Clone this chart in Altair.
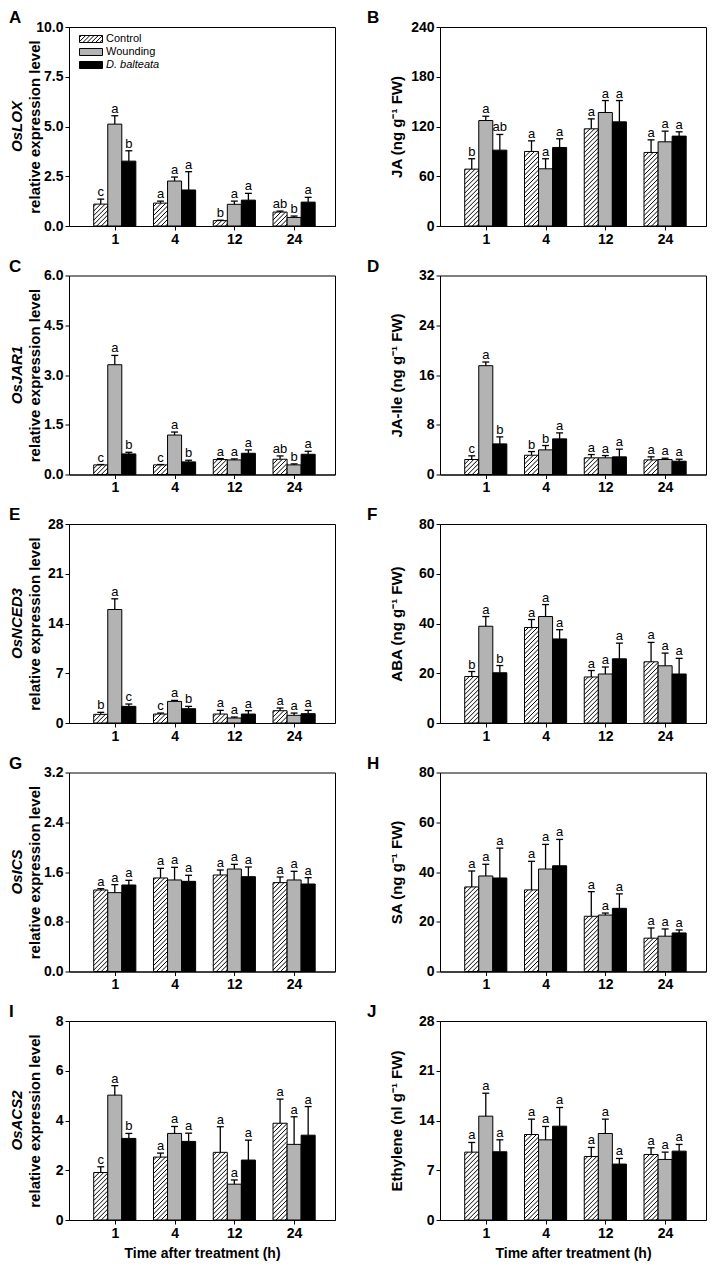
import json
import altair as alt
import pandas as pd

FONT = "Liberation Sans"
TIMES = ["1", "4", "12", "24"]
TREATMENTS = ["Control", "Wounding", "D. balteata"]
FILLS = ["#ffffff", "#b3b3b3", "#000000"]

# values per time point: [Control, Wounding, D. balteata]
A_MEAN = [[1.10, 5.12, 3.26], [1.15, 2.26, 1.81], [0.27, 1.09, 1.30], [0.70, 0.43, 1.20]]
A_SE = [[0.25, 0.42, 0.52], [0.10, 0.20, 0.92], [0.02, 0.16, 0.34], [0.05, 0.07, 0.24]]
A_LET = [["c", "a", "b"], ["a", "a", "a"], ["b", "a", "a"], ["ab", "b", "a"]]
A_TICKS = [0, 2.5, 5, 7.5, 10]

B_MEAN = [[68.6, 127.2, 91.5], [89.9, 69.0, 94.7], [117.2, 136.9, 125.6], [88.7, 101.5, 108.4]]
B_SE = [[12.5, 5.2, 18.9], [12.8, 12.1, 10.5], [12.0, 14.4, 25.7], [15.2, 12.9, 5.2]]
B_LET = [["b", "a", "ab"], ["a", "a", "a"], ["a", "a", "a"], ["a", "a", "a"]]
B_TICKS = [0, 60, 120, 180, 240]

C_MEAN = [[0.29, 3.31, 0.62], [0.29, 1.19, 0.38], [0.45, 0.44, 0.64], [0.46, 0.29, 0.61]]
C_SE = [[0.01, 0.28, 0.05], [0.01, 0.09, 0.05], [0.03, 0.03, 0.10], [0.10, 0.03, 0.09]]
C_LET = [["c", "a", "b"], ["c", "a", "b"], ["a", "a", "a"], ["ab", "b", "a"]]
C_TICKS = [0, 1.5, 3, 4.5, 6]

D_MEAN = [[2.41, 17.5, 4.92], [3.10, 3.96, 5.73], [2.68, 2.68, 2.84], [2.35, 2.41, 2.14]]
D_SE = [[0.59, 0.59, 1.13], [0.59, 0.70, 0.96], [0.53, 0.37, 1.23], [0.49, 0.21, 0.32]]
D_LET = [["c", "a", "b"], ["b", "b", "a"], ["a", "a", "a"], ["a", "a", "a"]]
D_TICKS = [0, 8, 16, 24, 32]

E_MEAN = [[1.22, 15.97, 2.34], [1.26, 3.04, 2.01], [1.26, 0.70, 1.26], [1.73, 1.08, 1.31]]
E_SE = [[0.28, 1.50, 0.33], [0.14, 0.14, 0.33], [0.52, 0.14, 0.47], [0.38, 0.32, 0.47]]
E_LET = [["b", "a", "c"], ["c", "a", "b"], ["a", "a", "a"], ["a", "a", "a"]]
E_TICKS = [0, 7, 14, 21, 28]

F_MEAN = [[18.7, 38.9, 20.2], [38.4, 42.8, 33.8], [18.5, 19.7, 25.8], [24.6, 23.0, 19.7]]
F_SE = [[2.0, 3.9, 2.9], [3.2, 4.8, 3.7], [2.6, 2.8, 6.3], [7.8, 5.1, 6.3]]
F_LET = [["b", "a", "b"], ["a", "a", "a"], ["a", "a", "a"], ["a", "a", "a"]]
F_TICKS = [0, 20, 40, 60, 80]

G_MEAN = [[1.311, 1.268, 1.391], [1.504, 1.472, 1.450], [1.552, 1.648, 1.525], [1.429, 1.472, 1.407]]
G_SE = [[0.02, 0.129, 0.075], [0.155, 0.203, 0.097], [0.08, 0.075, 0.155], [0.091, 0.139, 0.102]]
G_LET = [["a", "a", "a"], ["a", "a", "a"], ["a", "a", "a"], ["a", "a", "a"]]
G_TICKS = [0, 0.8, 1.6, 2.4, 3.2]

H_MEAN = [[34.0, 38.4, 37.6], [32.8, 41.2, 42.5], [22.2, 22.7, 25.4], [13.4, 14.2, 15.5]]
H_SE = [[6.4, 4.7, 12.0], [11.5, 9.9, 10.6], [9.9, 0.8, 5.8], [4.1, 2.9, 1.2]]
H_LET = [["a", "a", "a"], ["a", "a", "a"], ["a", "a", "a"], ["a", "a", "a"]]
H_TICKS = [0, 20, 40, 60, 80]

I_MEAN = [[1.91, 5.02, 3.28], [2.53, 3.48, 3.16], [2.72, 1.44, 2.41], [3.89, 3.04, 3.41]]
I_SE = [[0.23, 0.38, 0.20], [0.16, 0.28, 0.33], [1.03, 0.17, 0.80], [0.97, 1.11, 1.15]]
I_LET = [["c", "a", "b"], ["a", "a", "a"], ["a", "a", "a"], ["a", "a", "a"]]
I_TICKS = [0, 2, 4, 6, 8]

J_MEAN = [[9.55, 14.61, 9.60], [12.03, 11.28, 13.20], [8.94, 12.17, 7.87], [9.22, 8.52, 9.69]]
J_SE = [[1.36, 3.23, 1.68], [2.16, 1.88, 2.63], [1.27, 2.02, 0.79], [0.94, 1.03, 0.94]]
J_LET = [["a", "a", "a"], ["a", "a", "a"], ["a", "a", "a"], ["a", "a", "a"]]
J_TICKS = [0, 7, 14, 21, 28]

GENES = ["OsLOX", "OsJAR1", "OsNCED3", "OsICS", "OsACS2"]
HORMONES = ["JA (ng g\u207b\u00b9 FW)", "JA-Ile (ng g\u207b\u00b9 FW)", "ABA (ng g\u207b\u00b9 FW)",
            "SA (ng g\u207b\u00b9 FW)", "Ethylene (nl g\u207b\u00b9 FW)"]
XTITLE = "Time after treatment (h)"

# layout / style
W, H = 266, 199
XDOM = [-0.766, 3.684]
BW = 0.235
CAP = 0.058
PX_X = W / (XDOM[1] - XDOM[0])
HATCH = 4.5


def sym_paths():
    hx, hy = 1.77, 0.54
    rect = f"M{-hx},{-hy}H{hx}V{hy}H{-hx}Z"
    parts = [rect]
    a = -hx - 2 * hy + 0.3
    while a < hx:
        xs, xe = max(a, -hx), min(a + 2 * hy, hx)
        if xe > xs + 0.05:
            ys = hy - (xs - a)
            ye = hy - (xe - a)
            parts.append(f"M{xs:.3f},{ys:.3f}L{xe:.3f},{ye:.3f}")
        a += 0.65
    return rect, "".join(parts)


RECT_PATH, HATCH_PATH = sym_paths()


def panel(letter, mean, se, lets, ticks, fmt, ytitle, gene, left, bottom):
    ymax = ticks[-1]
    rows, hatch = [], []
    px_y = H / ymax
    for g in range(4):
        for t in range(3):
            c = g + (t - 1) * BW
            v = mean[g][t]
            rows.append(dict(treatment=TREATMENTS[t], pos=c, xl=c - BW / 2, xr=c + BW / 2,
                             value=v, top=v + se[g][t], letter=lets[g][t],
                             capl=c - CAP, capr=c + CAP))
            if t == 0:
                w = BW * PX_X
                h = v * px_y
                cc = -w + 2.0
                while cc < h:
                    us, ue = max(0.0, -cc), min(w, h - cc)
                    if ue > us + 0.3:
                        hatch.append(dict(hx1=c - BW / 2 + us / PX_X, hy1=(us + cc) / px_y,
                                          hx2=c - BW / 2 + ue / PX_X, hy2=(ue + cc) / px_y))
                    cc += HATCH
    df = pd.DataFrame(rows)
    hdf = pd.DataFrame(hatch)

    xs = alt.Scale(domain=XDOM, nice=False, zero=False)
    xaxis = alt.Axis(values=[0, 1, 2, 3], labelExpr=json.dumps(TIMES) + "[datum.value]",
                     titlePadding=6, titleFontSize=14)
    xt = XTITLE if bottom else None
    ys = alt.Scale(domain=[0, ymax], nice=False, zero=True)
    yaxis = alt.Axis(values=ticks, format=fmt, titleX=(-27 if left else -36))

    def X(f):
        return alt.X(f, type="quantitative", scale=xs, axis=xaxis, title=xt)

    def Y(f):
        return alt.Y(f, type="quantitative", scale=ys, axis=yaxis, title=ytitle)

    legend = alt.Legend(
        title=None, orient="none", legendX=15, legendY=5, padding=0,
        symbolSize=169,
        symbolType={"expr": f"datum.label == 'Control' ? '{HATCH_PATH}' : '{RECT_PATH}'"},
        symbolStrokeColor="black", symbolStrokeWidth=1,
        labelFont=FONT, labelFontSize=11, labelOffset=8, rowPadding=0, labelColor="black",
        labelFontStyle={"expr": "datum.label == 'D. balteata' ? 'italic' : 'normal'"},
    )
    base = alt.Chart(df)
    bars = base.mark_rect(stroke="black", strokeWidth=1).encode(
        x=X("xl"), x2="xr:Q", y=Y("value"), y2=alt.datum(0),
        fill=alt.Fill("treatment:N", scale=alt.Scale(domain=TREATMENTS, range=FILLS), legend=legend),
    )
    hl = alt.Chart(hdf).mark_rule(color="black", strokeWidth=1).encode(
        x=X("hx1"), x2="hx2:Q", y=Y("hy1"), y2="hy2:Q")
    err = base.mark_rule(color="black", strokeWidth=1.3).encode(x=X("pos"), y=Y("value"), y2="top:Q")
    cap = base.mark_rule(color="black", strokeWidth=1.3).encode(x=X("capl"), x2="capr:Q", y=Y("top"))
    txt = base.mark_text(baseline="alphabetic", dy=-3, fontSize=13, font=FONT, color="black").encode(
        x=X("pos"), y=Y("top"), text="letter:N")
    layers = [bars, hl, err, cap, txt]
    if gene:
        g = alt.Chart(pd.DataFrame({"g": [gene]})).mark_text(
            angle=270, baseline="alphabetic", align="center", fontSize=15, font=FONT,
            fontWeight="bold", fontStyle="italic", color="black").encode(
            x=alt.value(-47), y=alt.value(H / 2), text="g:N")
        layers.append(g)
    return alt.layer(*layers).properties(
        width=W, height=H,
        title=alt.TitleParams(letter, anchor="start", frame="group", dx=(-60 if left else -73),
                              fontSize=17, fontWeight="bold", font=FONT, color="black", offset=-7),
    )


LEFT = [("A", A_MEAN, A_SE, A_LET, A_TICKS, ".1f"), ("C", C_MEAN, C_SE, C_LET, C_TICKS, ".1f"),
        ("E", E_MEAN, E_SE, E_LET, E_TICKS, "d"), ("G", G_MEAN, G_SE, G_LET, G_TICKS, ".1f"),
        ("I", I_MEAN, I_SE, I_LET, I_TICKS, "d")]
RIGHT = [("B", B_MEAN, B_SE, B_LET, B_TICKS, "d"), ("D", D_MEAN, D_SE, D_LET, D_TICKS, "d"),
         ("F", F_MEAN, F_SE, F_LET, F_TICKS, "d"), ("H", H_MEAN, H_SE, H_LET, H_TICKS, "d"),
         ("J", J_MEAN, J_SE, J_LET, J_TICKS, "d")]

panels = []
for i in range(5):
    bottom = i == 4
    l = LEFT[i]
    r = RIGHT[i]
    panels.append(panel(l[0], l[1], l[2], l[3], l[4], l[5], "relative expression level", GENES[i], True, bottom))
    panels.append(panel(r[0], r[1], r[2], r[3], r[4], r[5], HORMONES[i], None, False, bottom))

chart = alt.concat(*panels, columns=2, spacing={"row": 49.5, "column": 105}, bounds="flush").properties(
    padding=0).configure_axis(
    labelFont=FONT, titleFont=FONT, labelFontWeight="bold", titleFontWeight="bold",
    labelColor="black", titleColor="black", domainColor="black", tickColor="black",
    labelFontSize=14, titleFontSize=15, tickSize=4, labelPadding=2, grid=False,
).configure_view(stroke="black", strokeWidth=1)

chart.save("out.html", embed_options={"renderer": "svg", "actions": False})
